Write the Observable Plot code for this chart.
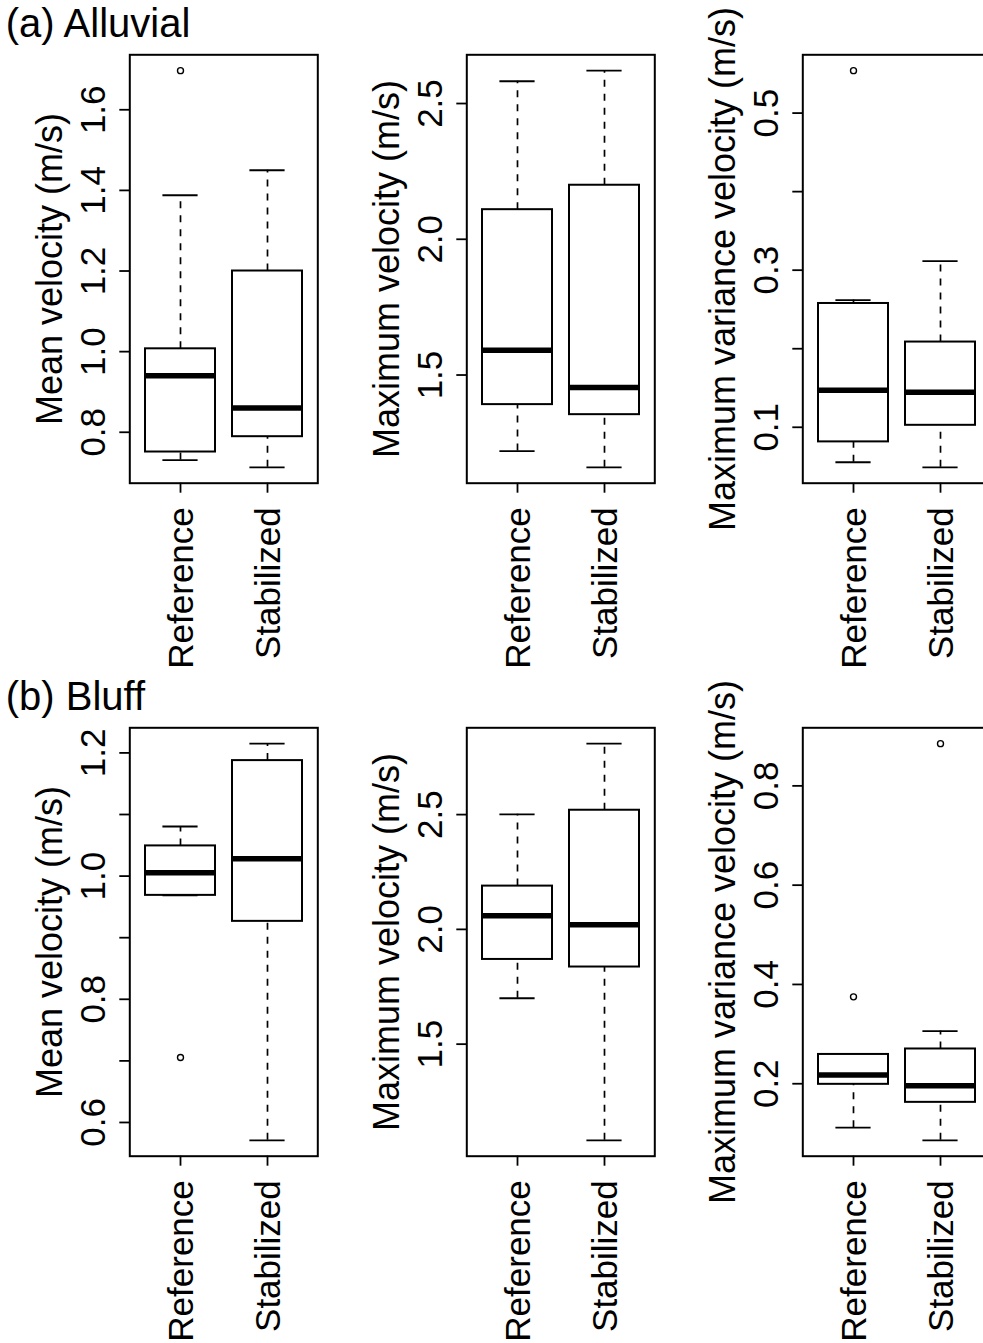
<!DOCTYPE html>
<html><head><meta charset="utf-8">
<script src="https://cdn.jsdelivr.net/npm/d3@7"></script>
<script src="https://cdn.jsdelivr.net/npm/@observablehq/plot@0.6"></script>
<style>
html,body{margin:0;padding:0;background:#fff;overflow:hidden;}
#chart{position:relative;width:983px;height:1343px;overflow:hidden;background:#fff;}
.panel{position:absolute;width:336.5px;height:670px;}
.panel svg{max-width:none !important;width:336.5px;height:670px;}
</style></head><body><div id="chart"></div>
<script>
// ---- data: box statistics per group: [lower whisker, Q1, median, Q3, upper whisker]
const groups = ["Reference", "Stabilized"];
const sectionTitles = ["(a) Alluvial", "(b) Bluff"];
const yLabels = ["Mean velocity (m/s)", "Maximum velocity (m/s)", "Maximum variance velocity (m/s)"];

const alluvialMeanStats = [[0.731, 0.751, 0.940, 1.007, 1.388], [0.713, 0.789, 0.860, 1.200, 1.450]];
const alluvialMeanOutliers = [[1.697], []];
const alluvialMeanTicks = [0.8, 1.0, 1.2, 1.4, 1.6];
const alluvialMeanTickLabels = [0.8, 1.0, 1.2, 1.4, 1.6];

const alluvialMaxStats = [[1.220, 1.391, 1.591, 2.109, 2.582], [1.160, 1.354, 1.454, 2.199, 2.621]];
const alluvialMaxOutliers = [[], []];
const alluvialMaxTicks = [1.5, 2.0, 2.5];
const alluvialMaxTickLabels = [1.5, 2.0, 2.5];

const alluvialVarStats = [[0.0555, 0.0814, 0.147, 0.2576, 0.262], [0.049, 0.1025, 0.1445, 0.2085, 0.3114]];
const alluvialVarOutliers = [[0.554], []];
const alluvialVarTicks = [0.1, 0.2, 0.3, 0.4, 0.5];
const alluvialVarTickLabels = [0.1, 0.3, 0.5];

const bluffMeanStats = [[0.9687, 0.9687, 1.0055, 1.049, 1.0805], [0.571, 0.9265, 1.028, 1.1875, 1.215]];
const bluffMeanOutliers = [[0.7055], []];
const bluffMeanTicks = [0.6, 0.7, 0.8, 0.9, 1.0, 1.1, 1.2];
const bluffMeanTickLabels = [0.6, 0.8, 1.0, 1.2];

const bluffMaxStats = [[1.700, 1.869, 2.0596, 2.1885, 2.501], [1.081, 1.836, 2.020, 2.519, 2.809]];
const bluffMaxOutliers = [[], []];
const bluffMaxTicks = [1.5, 2.0, 2.5];
const bluffMaxTickLabels = [1.5, 2.0, 2.5];

const bluffVarStats = [[0.1114, 0.1988, 0.2175, 0.259, 0.259], [0.086, 0.1625, 0.196, 0.270, 0.306]];
const bluffVarOutliers = [[0.375], [0.885]];
const bluffVarTicks = [0.2, 0.4, 0.6, 0.8];
const bluffVarTickLabels = [0.2, 0.4, 0.6, 0.8];

// ---- layout
const FONT = "'Liberation Sans', Arial, Helvetica, sans-serif";
const FS = 35;
const panelW = 336.5, panelH = 670, rowStep = 673.4;

function makePanel(stats, outliers, ticks, tickLabels, ylabel, title) {
  const rows = groups.map((g, i) => ({
    group: g, lower: stats[i][0], q1: stats[i][1], median: stats[i][2], q3: stats[i][3], upper: stats[i][4]
  }));
  const outs = groups.flatMap((g, i) => outliers[i].map(v => ({group: g, value: v})));
  const all = stats.flat().concat(outliers.flat());
  const lo = d3.min(all), hi = d3.max(all), ext = (hi - lo) * 0.04;
  const fmt = d3.format(".1f");
  const marks = [
    Plot.axisY({ticks, tickSize: 10, fill: "none", stroke: "black", strokeWidth: 1.8, label: null}),
    Plot.axisX({tickSize: 10, fill: "none", stroke: "black", strokeWidth: 1.8, label: null}),
    Plot.text(tickLabels, {y: d => d, text: d => fmt(d), frameAnchor: "left", dx: -25, rotate: -90,
      textAnchor: "middle", lineAnchor: "bottom", fontSize: FS, fill: "black"}),
    Plot.text(groups, {x: d => d, text: d => d, frameAnchor: "bottom", dy: 24, dx: 12, rotate: -90,
      textAnchor: "end", lineAnchor: "bottom", fontSize: FS, fill: "black"}),
    Plot.text([ylabel], {text: d => d, frameAnchor: "left", dx: -68, rotate: -90,
      textAnchor: "middle", lineAnchor: "bottom", fontSize: 36, fill: "black"}),
    // whiskers
    Plot.ruleX(rows, {x: "group", y1: "q3", y2: "upper", stroke: "black", strokeWidth: 1.7, strokeDasharray: "7,7"}),
    Plot.ruleX(rows, {x: "group", y1: "lower", y2: "q1", stroke: "black", strokeWidth: 1.7, strokeDasharray: "7,7"}),
    Plot.tickY(rows, {x: "group", y: "upper", stroke: "black", strokeWidth: 1.8, insetLeft: 17.4, insetRight: 17.4}),
    Plot.tickY(rows, {x: "group", y: "lower", stroke: "black", strokeWidth: 1.8, insetLeft: 17.4, insetRight: 17.4}),
    // boxes
    Plot.barY(rows, {x: "group", y1: "q1", y2: "q3", fill: "white", stroke: "black", strokeWidth: 2}),
    Plot.tickY(rows, {x: "group", y: "median", stroke: "black", strokeWidth: 5.5}),
    Plot.dot(outs, {x: "group", y: "value", r: 3, stroke: "black", strokeWidth: 1.4, fill: "none"}),
    Plot.frame({stroke: "black", strokeWidth: 2})
  ];
  if (title) marks.push(Plot.text([title], {text: d => d, frameAnchor: "top-left", dx: -124, dy: -17.5,
    textAnchor: "start", lineAnchor: "bottom", fontSize: 40, fill: "black"}));
  return Plot.plot({
    width: panelW, height: panelH,
    marginLeft: 129.3, marginRight: panelW - 129.3 - 188, marginTop: 54.3, marginBottom: panelH - 54.3 - 428.4,
    style: {fontFamily: FONT, fontSize: FS + "px", color: "black", background: "transparent", overflow: "visible"},
    x: {type: "band", domain: groups, paddingInner: 0.2, paddingOuter: 0.18},
    y: {domain: [lo - ext, hi + ext]},
    marks
  });
}

const panels = [
  [alluvialMeanStats, alluvialMeanOutliers, alluvialMeanTicks, alluvialMeanTickLabels, yLabels[0], sectionTitles[0]],
  [alluvialMaxStats, alluvialMaxOutliers, alluvialMaxTicks, alluvialMaxTickLabels, yLabels[1], null],
  [alluvialVarStats, alluvialVarOutliers, alluvialVarTicks, alluvialVarTickLabels, yLabels[2], null],
  [bluffMeanStats, bluffMeanOutliers, bluffMeanTicks, bluffMeanTickLabels, yLabels[0], sectionTitles[1]],
  [bluffMaxStats, bluffMaxOutliers, bluffMaxTicks, bluffMaxTickLabels, yLabels[1], null],
  [bluffVarStats, bluffVarOutliers, bluffVarTicks, bluffVarTickLabels, yLabels[2], null]
];

const chart = document.getElementById("chart");
panels.forEach((p, i) => {
  const div = document.createElement("div");
  div.className = "panel";
  div.style.left = (i % 3) * panelW + "px";
  div.style.top = Math.floor(i / 3) * rowStep + "px";
  div.appendChild(makePanel(...p));
  chart.appendChild(div);
});
</script></body></html>
